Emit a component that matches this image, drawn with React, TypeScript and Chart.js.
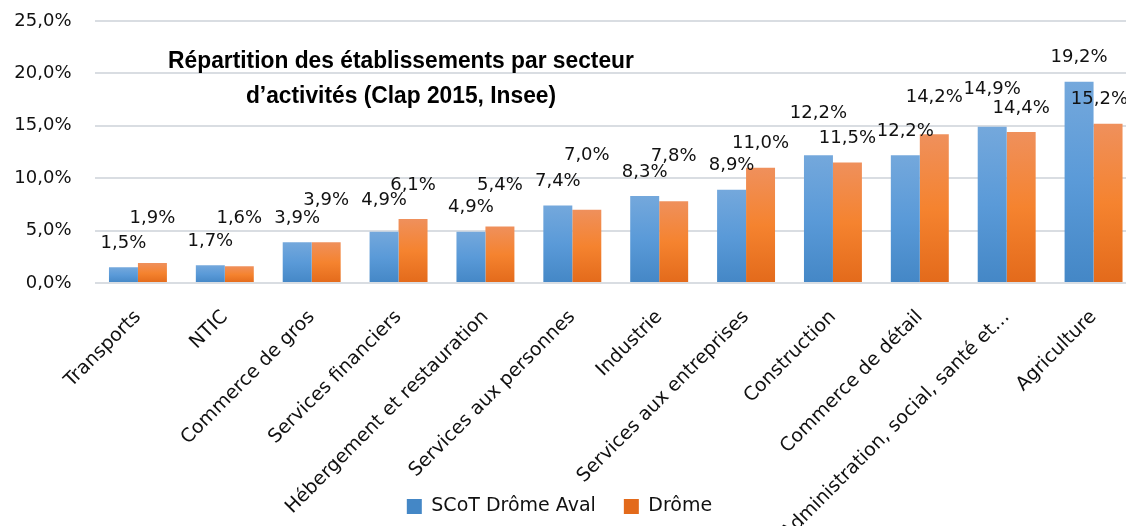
import React, { useEffect, useRef } from 'react';
import { Chart, registerables } from 'chart.js';

Chart.register(...registerables);

// ---- data ----
const categories = [
  'Transports',
  'NTIC',
  'Commerce de gros',
  'Services financiers',
  'Hébergement et restauration',
  'Services aux personnes',
  'Industrie',
  'Services aux entreprises',
  'Construction',
  'Commerce de détail',
  'Administration, social, santé et…',
  'Agriculture',
];
const scotDromeAval = [1.5, 1.7, 3.9, 4.9, 4.9, 7.4, 8.3, 8.9, 12.2, 12.2, 14.9, 19.2];
const drome = [1.9, 1.6, 3.9, 6.1, 5.4, 7.0, 7.8, 11.0, 11.5, 14.2, 14.4, 15.2];
const seriesNames = ['SCoT Drôme Aval', 'Drôme'];
const yTicks = [0, 5, 10, 15, 20, 25];
const titleLines = ['Répartition des établissements par secteur', 'd’activités (Clap 2015, Insee)'];
// extra lift (px) of value labels that were moved to avoid overlaps
const liftA = [0, 0, 0, 7, 0, 0, 0, 0, 18, 0, 14, 0];
const liftB = [21, 24, 18, 10, 17, 30, 21, 0, 0, 13, 0, 0];

const FONT = "'DejaVu Sans', sans-serif";
const TEXT = '#111';
const fmt = (v: number) => Number(v).toFixed(1).replace('.', ',') + '%';

const blueStops = ['#74a8dc', '#5a9ad8', '#4487c6'];
const orangeStops = ['#ef905c', '#f5832f', '#e36a1b'];

const gradient = (stops: string[]) => (ctx: any) => {
  const chart = ctx.chart;
  const area = chart.chartArea;
  if (ctx.type !== 'data' || !area || !chart.scales.y) return stops[1];
  const y = chart.scales.y.getPixelForValue(ctx.raw);
  const g = chart.ctx.createLinearGradient(0, y, 0, area.bottom);
  g.addColorStop(0, stops[0]);
  g.addColorStop(0.5, stops[1]);
  g.addColorStop(1, stops[2]);
  return g;
};

const valueLabels = {
  id: 'valueLabels',
  afterDatasetsDraw(chart: any) {
    const { ctx } = chart;
    ctx.save();
    ctx.font = `18px ${FONT}`;
    ctx.fillStyle = TEXT;
    ctx.textAlign = 'center';
    ctx.textBaseline = 'middle';
    [liftA, liftB].forEach((lift, di) => {
      const meta = chart.getDatasetMeta(di);
      meta.data.forEach((bar: any, i: number) => {
        const txt = fmt(chart.data.datasets[di].data[i]);
        const w = ctx.measureText(txt).width;
        const x = Math.min(bar.x, chart.width - 12 - w / 2);
        ctx.fillText(txt, x, bar.y - 24 - lift[i]);
      });
    });
    ctx.restore();
  },
};

const insetTitle = {
  id: 'insetTitle',
  afterDraw(chart: any) {
    const ctx = chart.ctx;
    ctx.save();
    ctx.font = "bold 24.6px 'Liberation Sans', Arial, sans-serif";
    ctx.fillStyle = '#000';
    ctx.textAlign = 'center';
    ctx.textBaseline = 'alphabetic';
    titleLines.forEach((line, i) => {
      ctx.save();
      ctx.translate(401, 68 + i * 35.3);
      ctx.scale(0.926, 1);
      ctx.fillText(line, 0, 0);
      ctx.restore();
    });
    ctx.restore();
  },
};

const legendShift = {
  id: 'legendShift',
  afterLayout(chart: any) {
    const l = chart.legend;
    if (l) {
      l.left -= 9;
      l.right -= 9;
    }
  },
};

export default function App() {
  const ref = useRef<HTMLCanvasElement>(null);

  useEffect(() => {
    const canvas = ref.current;
    if (!canvas) return;
    const chart = new Chart(canvas, {
      type: 'bar',
      data: {
        labels: categories,
        datasets: [
          { label: seriesNames[0], data: scotDromeAval, backgroundColor: gradient(blueStops), borderWidth: 0 },
          { label: seriesNames[1], data: drome, backgroundColor: gradient(orangeStops), borderWidth: 0 },
        ],
      },
      options: {
        responsive: false,
        animation: false,
        layout: { padding: { top: 21, right: 3, left: 0, bottom: 0 } },
        datasets: { bar: { categoryPercentage: 0.667, barPercentage: 1 } },
        plugins: {
          legend: {
            position: 'bottom',
            labels: {
              font: { family: FONT, size: 19 },
              color: TEXT,
              boxWidth: 15,
              boxHeight: 15,
              padding: 28,
            },
          },
          title: { display: false },
          tooltip: { enabled: false },
        },
        scales: {
          x: {
            grid: { display: false, drawTicks: false },
            border: { display: false },
            ticks: {
              autoSkip: false,
              maxRotation: 45,
              minRotation: 45,
              font: { family: FONT, size: 19 },
              color: TEXT,
              padding: 23,
            },
            afterFit: (s: any) => {
              s.height = 186;
              s._computeLabelArea = () => undefined;
            },
          },
          y: {
            min: 0,
            max: 25,
            afterBuildTicks: (s: any) => {
              s.ticks = yTicks.map((v) => ({ value: v }));
            },
            ticks: {
              callback: (v: any) => fmt(v),
              font: { family: FONT, size: 18 },
              color: TEXT,
              padding: 23,
            },
            grid: { color: '#d9dde2', lineWidth: 2, drawTicks: false },
            border: { display: false },
            afterFit: (s: any) => {
              s.width = 94.5;
              s.paddingTop = 0;
              s.paddingBottom = 0;
            },
          },
        },
      },
      plugins: [valueLabels, insetTitle, legendShift],
    } as any);
    return () => chart.destroy();
  }, []);

  return (
    <div
      style={{
        position: 'fixed',
        left: 0,
        top: 0,
        width: 1126,
        height: 526,
        overflow: 'hidden',
        background: '#fff',
      }}
    >
      <canvas ref={ref} width={1140} height={526} style={{ width: 1140, height: 526, display: 'block' }} />
    </div>
  );
}
